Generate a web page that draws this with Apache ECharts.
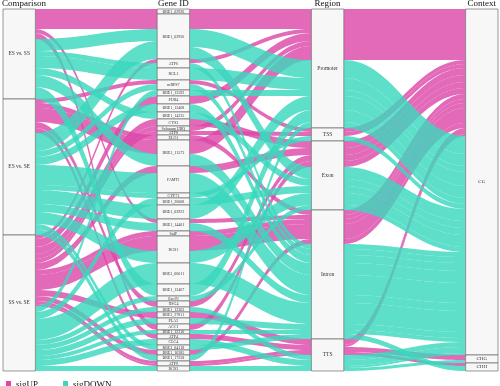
<!DOCTYPE html>
<html><head><meta charset="utf-8">
<script src="https://cdn.jsdelivr.net/npm/echarts@6/dist/echarts.min.js"></script>
<style>html,body{margin:0;padding:0;background:#fff}#c{width:500px;height:386px}</style>
</head><body><div id="c"></div>
<script>
// ---- data ----
const axisTitles = ['Comparison', 'Gene ID', 'Region', 'Context'];
const comparisons = ['ES vs. SS', 'ES vs. SE', 'SS vs. SE'];
const genes = ['BRE1_02926','BRE1_02956','ATP6','RGL1','mRPS7','BRE1_13592','PUR4','BRE1_12468','BRE1_14235','CYS3',
  'Solanum UBQ','ATP8','ELO1','BRE1_11573','FAMT1','CYP71','BRE1_26008','BRE1_02923','BRE1_14401','SulP',
  'RGS1','BRE1_06011','BRE1_12467','Exo70','XSG4','BRE1_12203','BRE1_27811','PLA2','ACC1','BRE1_12310',
  'ATP4','CLC4','BRE1_04118','BRE1_10385','BRE1_17258','ATP9','RGS3'];
const regions = ['Promoter', 'TSS', 'Exon', 'Intron', 'TTS'];
const contexts = ['CG', 'CHG', 'CHH'];
const directions = ['sigUP', 'sigDOWN'];
// one entry per alluvium
const alluvGene    = [0,1,1,1,2,2,3,4,4,5,6,7,8,9,10,11,12,13,13,14,14,15,16,17,18,18,19,20,20,21,22,23,24,25,26,27,28,29,30,31,32,33,34,35,35,36,36];
const alluvComp    = [0,0,1,0,2,0,0,1,1,2,2,1,0,2,2,2,1,1,0,2,1,1,2,1,1,0,2,2,1,2,0,2,1,2,2,2,0,2,1,2,1,2,1,2,2,2,2];
const alluvDir     = [0,0,1,1,0,1,1,1,0,1,0,1,1,0,0,0,0,0,1,0,1,1,1,1,1,0,0,0,1,1,1,1,0,1,0,1,0,1,0,1,1,0,1,0,0,1,1];
const alluvRegion  = [0,0,0,2,0,3,0,3,1,0,0,3,2,2,0,1,3,0,3,2,3,1,2,0,3,3,3,3,2,3,0,2,2,4,4,3,2,3,4,4,3,3,0,4,4,4,4];
const alluvContext = [0,0,0,0,0,0,0,0,0,0,0,0,0,0,0,0,0,0,0,0,0,0,0,0,0,0,0,0,0,0,0,0,0,0,0,0,0,0,1,0,2,0,0,2,0,1,0];
const alluvValue   = [5,15,18,12,4,5,12,6,4,6,8,8,7,7,5,4,5,14,12,7,20,5,7,14,8,4,5,15,12,21,12,5,6,5,6,6,6,4,5,6,5,5,6,3,2,3,2];

const PINK = '#dd48aa', TEAL = '#3ad8bd';
const W = 0.21;            // stratum width in x units
const CTRL = 0.42;         // curve control

// ---- layout computation ----
const strataNames = [comparisons, genes, regions, contexts];
const keys = [alluvComp, alluvGene, alluvRegion, alluvContext];
const N = alluvValue.length;
const TOTAL = alluvValue.reduce((a, b) => a + b, 0);
const strataTop = strataNames.map((names, k) => {
  const sizes = names.map(() => 0);
  for (let i = 0; i < N; i++) sizes[keys[k][i]] += alluvValue[i];
  const tops = []; let acc = 0;
  sizes.forEach(s => { tops.push(acc); acc += s; });
  return { tops, sizes };
});
const strata = [];
strataNames.forEach((names, k) => names.forEach((nm, j) => strata.push({ k, name: nm, y0: strataTop[k].tops[j], y1: strataTop[k].tops[j] + strataTop[k].sizes[j] })));

function lodes(k, other) {
  const pos = new Array(N);
  const cursor = strataTop[k].tops.slice();
  const idx = [...Array(N).keys()].sort((a, b) =>
    keys[k][a] - keys[k][b] || alluvDir[a] - alluvDir[b] || keys[other][a] - keys[other][b] || a - b);
  idx.forEach(i => { const s = keys[k][i]; pos[i] = [cursor[s], cursor[s] + alluvValue[i]]; cursor[s] += alluvValue[i]; });
  return pos;
}
const flowData = [[], []];
for (let k = 0; k < 3; k++) {
  const L = lodes(k, k + 1), R = lodes(k + 1, k);
  for (let i = 0; i < N; i++) flowData[alluvDir[i]].push([k, L[i][0], L[i][1], R[i][0], R[i][1]]);
}

function bez(p0, p1, p2, p3, t) { const u = 1 - t; return u*u*u*p0 + 3*u*u*t*p1 + 3*u*t*t*p2 + t*t*t*p3; }
function flowRender(params, api) {
  const k = api.value(0), a0 = api.value(1), a1 = api.value(2), b0 = api.value(3), b1 = api.value(4);
  const x0 = k + W / 2, x1 = k + 1 - W / 2, dx = x1 - x0;
  const pts = [], S = 32;
  for (let i = 0; i <= S; i++) { const t = i / S; pts.push(api.coord([bez(x0, x0 + CTRL*dx, x1 - CTRL*dx, x1, t), bez(a0, a0, b0, b0, t)])); }
  for (let i = S; i >= 0; i--) { const t = i / S; pts.push(api.coord([bez(x0, x0 + CTRL*dx, x1 - CTRL*dx, x1, t), bez(a1, a1, b1, b1, t)])); }
  return { type: 'polygon', shape: { points: pts }, style: { fill: api.visual('color'), opacity: 0.82 } };
}
const labelSize = [5.5, 4, 5.5, 5];
function strataRender(params, api) {
  const s = strata[params.dataIndex];
  const p0 = api.coord([s.k - W / 2, s.y0]), p1 = api.coord([s.k + W / 2, s.y1]);
  return { type: 'group', children: [
    { type: 'rect', shape: { x: p0[0], y: p0[1], width: p1[0] - p0[0], height: p1[1] - p0[1] },
      style: { fill: '#f7f7f7', stroke: '#555', lineWidth: 0.6 } },
    { type: 'text', style: { text: s.name, x: (p0[0] + p1[0]) / 2, y: (p0[1] + p1[1]) / 2, align: 'center', verticalAlign: 'middle',
      fontSize: labelSize[s.k], fontFamily: 'Liberation Serif', fill: '#333' } }
  ] };
}
function titleRender(params, api) {
  const k = api.value(0);
  const p = api.coord([k, 0]);
  const left = api.coord([k - W / 2, 0]);
  return { type: 'text', style: { text: axisTitles[k], x: k === 0 ? left[0] - 1 : p[0], y: p[1] - 0.5,
    align: k === 0 ? 'left' : 'center', verticalAlign: 'bottom', fontSize: 9, fontFamily: 'Liberation Serif', fill: '#111' } };
}

const chart = echarts.init(document.getElementById('c'), null, { renderer: 'canvas' });
chart.setOption({
  animation: false,
  grid: { left: 3, right: 2, top: 9, bottom: 15 },
  xAxis: { type: 'value', min: -W / 2, max: 3 + W / 2, show: false },
  yAxis: { type: 'value', min: 0, max: TOTAL, inverse: true, show: false },
  legend: { data: directions, left: 1, top: 375, icon: 'rect', itemWidth: 5, itemHeight: 7, itemGap: 25,
    textStyle: { fontFamily: 'Liberation Serif', fontSize: 9, color: '#111' }, selectedMode: false },
  series: [
    { type: 'custom', name: directions[0], itemStyle: { color: PINK }, renderItem: flowRender, data: flowData[0], silent: true },
    { type: 'custom', name: directions[1], itemStyle: { color: TEAL }, renderItem: flowRender, data: flowData[1], silent: true },
    { type: 'custom', name: 'strata', renderItem: strataRender, data: strata.map(s => [s.k, s.y0, s.y1]), silent: true, z: 5 },
    { type: 'custom', name: 'titles', renderItem: titleRender, data: [[0], [1], [2], [3]], silent: true, z: 5 }
  ]
});
</script></body></html>
